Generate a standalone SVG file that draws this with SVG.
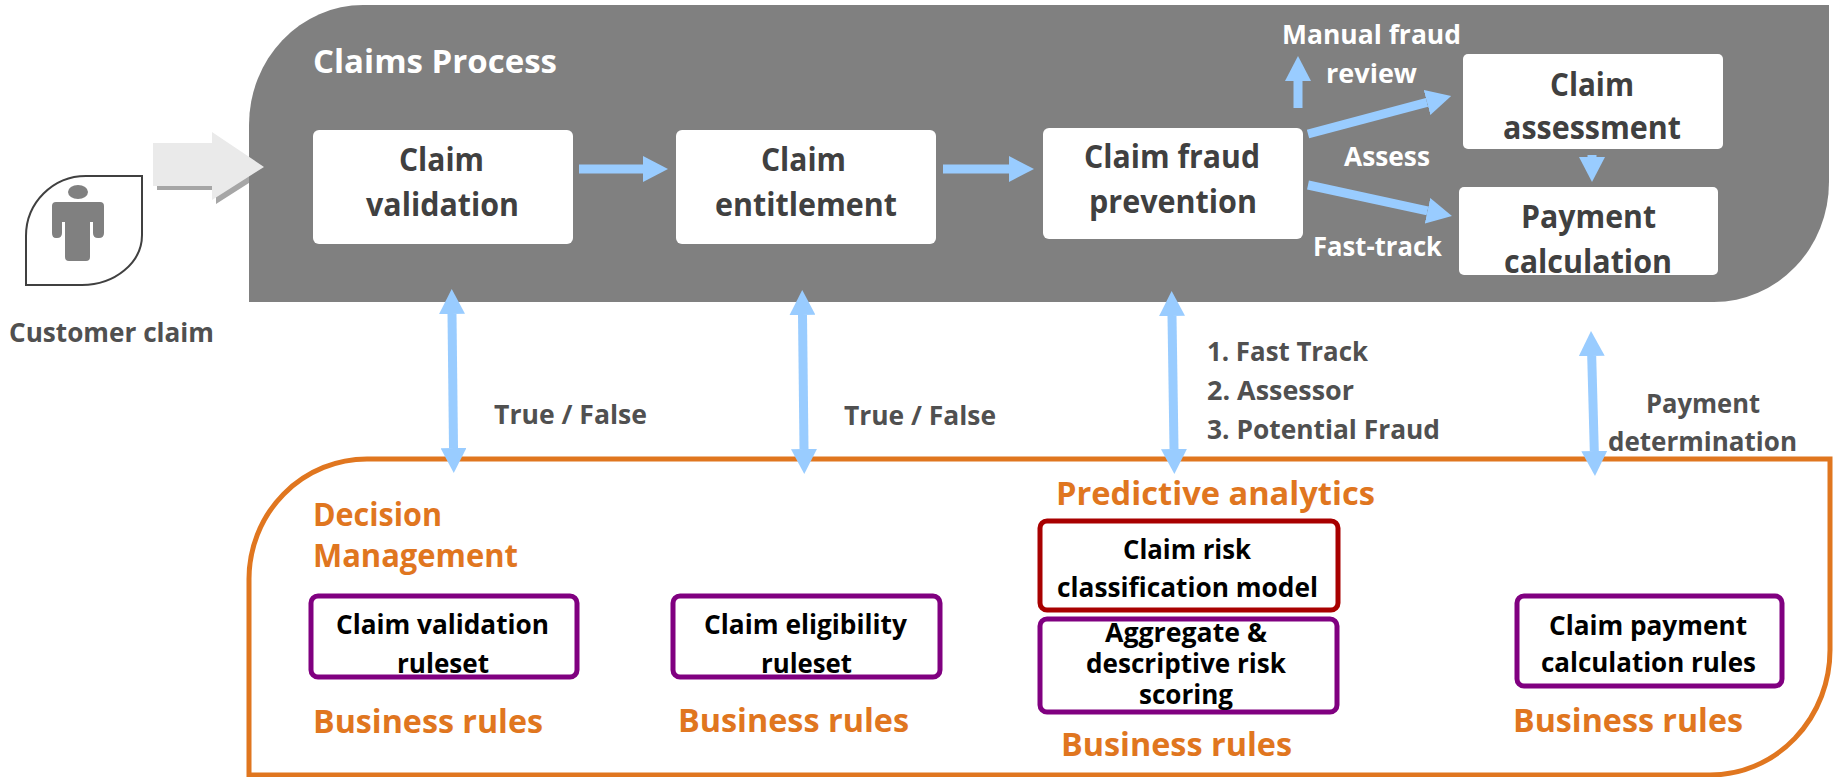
<svg xmlns="http://www.w3.org/2000/svg" width="1834" height="777" viewBox="0 0 1834 777">
<style>
text{font-family:"Open Sans","Noto Sans",sans-serif;font-weight:700;}
.big{font-size:32px;fill:#404040}
.mid{font-size:27px;fill:#505050}
.wht{font-size:27px;fill:#fff}
.org{font-size:32px;fill:#E0761F}
.blk{font-size:26px;fill:#000}
.box{fill:#fff}
.pur{fill:#fff;stroke:#800080;stroke-width:5}
.red{fill:#fff;stroke:#A80000;stroke-width:5}
.conn line{stroke:#99CCFF;stroke-width:9;fill:none}
.one{marker-end:url(#h)}
.two{marker-end:url(#h);marker-start:url(#h)}
</style>
<defs>
<marker id="h" viewBox="0 0 25 26" refX="0" refY="13" markerWidth="25" markerHeight="26" markerUnits="userSpaceOnUse" orient="auto-start-reverse"><path d="M0,0L25,13L0,26Z" fill="#99CCFF"/></marker>
</defs>
<rect width="1834" height="777" fill="#fff"/>
<g id="claim-input-shadow">
<path d="M157,147H216V136L268,171L216,204V190H157Z" fill="#A6A6A6"/>
</g>
<g id="process-panel">
<path d="M363,5H1829V182A115,120 0 0 1 1714,302H249V125A114,120 0 0 1 363,5Z" fill="#808080"/>
<text x="313" y="73" class="wht" style="font-size:32px" textLength="244" lengthAdjust="spacingAndGlyphs">Claims Process</text>
</g>
<g id="decision-panel">
<path d="M367,459H1830V650A120,125 0 0 1 1710,775H249V579A118,120 0 0 1 367,459Z" fill="#fff" stroke="#E0761F" stroke-width="5"/>
</g>
<g id="customer-claim">
<path d="M142,176V235A60,50 0 0 1 82,285H26V236A60,60 0 0 1 86,176Z" fill="#fff" stroke="#404040" stroke-width="2"/>
<ellipse cx="78" cy="192" rx="10" ry="7" fill="#808080"/>
<path d="M56,202H100Q104,202 104,206V233Q104,238 99,238H98Q93,238 93,233V222H90V257Q90,261 86,261H69Q65,261 65,257V222H62V233Q62,238 57,238H56Q52,238 52,233V206Q52,202 56,202Z" fill="#808080"/>
<text x="9" y="342" class="mid" textLength="205" lengthAdjust="spacingAndGlyphs">Customer claim</text>
</g>
<g id="claim-input-arrow">
<path d="M153,143H212V132L264,167L212,200V186H153Z" fill="#EAEAEA"/>
</g>
<g id="claim-validation">
<rect x="313" y="130" width="260" height="114" rx="6" class="box"/>
<text x="399" y="171" class="big" textLength="85" lengthAdjust="spacingAndGlyphs">Claim</text>
<text x="366" y="216" class="big" textLength="153" lengthAdjust="spacingAndGlyphs">validation</text>
</g>
<g id="claim-entitlement">
<rect x="676" y="130" width="260" height="114" rx="6" class="box"/>
<text x="761" y="171" class="big" textLength="85" lengthAdjust="spacingAndGlyphs">Claim</text>
<text x="715" y="216" class="big" textLength="182" lengthAdjust="spacingAndGlyphs">entitlement</text>
</g>
<g id="claim-fraud-prevention">
<rect x="1043" y="128" width="260" height="111" rx="6" class="box"/>
<text x="1084" y="168" class="big" textLength="176" lengthAdjust="spacingAndGlyphs">Claim fraud</text>
<text x="1089" y="213" class="big" textLength="168" lengthAdjust="spacingAndGlyphs">prevention</text>
</g>
<g id="claim-assessment">
<rect x="1463" y="54" width="260" height="95" rx="5" class="box"/>
<text x="1550" y="96" class="big" textLength="84" lengthAdjust="spacingAndGlyphs">Claim</text>
<text x="1503" y="139" class="big" textLength="178" lengthAdjust="spacingAndGlyphs">assessment</text>
</g>
<g id="payment-calculation">
<rect x="1459" y="187" width="259" height="88" rx="5" class="box"/>
<text x="1521" y="228" class="big" textLength="135" lengthAdjust="spacingAndGlyphs">Payment</text>
<text x="1504" y="273" class="big" textLength="168" lengthAdjust="spacingAndGlyphs">calculation</text>
</g>
<g id="validation-ruleset">
<rect x="311" y="596" width="266" height="81" rx="7" class="pur"/>
<text x="336" y="634" class="blk" textLength="213" lengthAdjust="spacingAndGlyphs">Claim validation</text>
<text x="397" y="673" class="blk" textLength="92" lengthAdjust="spacingAndGlyphs">ruleset</text>
</g>
<g id="eligibility-ruleset">
<rect x="673" y="596" width="267" height="81" rx="7" class="pur"/>
<text x="704" y="634" class="blk" textLength="203" lengthAdjust="spacingAndGlyphs">Claim eligibility</text>
<text x="761" y="673" class="blk" textLength="91" lengthAdjust="spacingAndGlyphs">ruleset</text>
</g>
<g id="risk-model">
<rect x="1040" y="521" width="298" height="89" rx="7" class="red"/>
<text x="1123" y="559" class="blk" textLength="128" lengthAdjust="spacingAndGlyphs">Claim risk</text>
<text x="1057" y="597" class="blk" textLength="261" lengthAdjust="spacingAndGlyphs">classification model</text>
</g>
<g id="risk-scoring">
<rect x="1040" y="619" width="297" height="93" rx="7" class="pur"/>
<text x="1105" y="642" class="blk" textLength="162" lengthAdjust="spacingAndGlyphs">Aggregate &amp;</text>
<text x="1086" y="673" class="blk" textLength="200" lengthAdjust="spacingAndGlyphs">descriptive risk</text>
<text x="1139" y="704" class="blk" textLength="94" lengthAdjust="spacingAndGlyphs">scoring</text>
</g>
<g id="payment-rules">
<rect x="1517" y="596" width="265" height="90" rx="7" class="pur"/>
<text x="1549" y="635" class="blk" textLength="198" lengthAdjust="spacingAndGlyphs">Claim payment</text>
<text x="1541" y="672" class="blk" textLength="215" lengthAdjust="spacingAndGlyphs">calculation rules</text>
</g>
<g id="labels">
<text x="1282" y="44" class="wht" textLength="179" lengthAdjust="spacingAndGlyphs">Manual fraud</text>
<text x="1326" y="83" class="wht" textLength="91" lengthAdjust="spacingAndGlyphs">review</text>
<text x="1344" y="166" class="wht" textLength="86" lengthAdjust="spacingAndGlyphs">Assess</text>
<text x="1313" y="256" class="wht" textLength="129" lengthAdjust="spacingAndGlyphs">Fast-track</text>
<text x="494" y="424" class="mid" textLength="153" lengthAdjust="spacingAndGlyphs">True / False</text>
<text x="844" y="425" class="mid" textLength="152" lengthAdjust="spacingAndGlyphs">True / False</text>
<text x="1207" y="361" class="mid" textLength="161" lengthAdjust="spacingAndGlyphs">1. Fast Track</text>
<text x="1207" y="400" class="mid" textLength="147" lengthAdjust="spacingAndGlyphs">2. Assessor</text>
<text x="1207" y="439" class="mid" textLength="233" lengthAdjust="spacingAndGlyphs">3. Potential Fraud</text>
<text x="1646" y="413" class="mid" textLength="114" lengthAdjust="spacingAndGlyphs">Payment</text>
<text x="1608" y="451" class="mid" textLength="189" lengthAdjust="spacingAndGlyphs">determination</text>
<text x="313" y="526" class="org" textLength="129" lengthAdjust="spacingAndGlyphs">Decision</text>
<text x="313" y="567" class="org" textLength="205" lengthAdjust="spacingAndGlyphs">Management</text>
<text x="313" y="733" class="org" textLength="230" lengthAdjust="spacingAndGlyphs">Business rules</text>
<text x="678" y="732" class="org" textLength="231" lengthAdjust="spacingAndGlyphs">Business rules</text>
<text x="1056" y="505" class="org" textLength="319" lengthAdjust="spacingAndGlyphs">Predictive analytics</text>
<text x="1061" y="756" class="org" textLength="231" lengthAdjust="spacingAndGlyphs">Business rules</text>
<text x="1513" y="732" class="org" textLength="230" lengthAdjust="spacingAndGlyphs">Business rules</text>
</g>
<g id="connectors" class="conn">
<line class="one" x1="579" y1="169" x2="643" y2="169"/>
<line class="one" x1="943" y1="169" x2="1009" y2="169"/>
<line class="one" x1="1298" y1="108" x2="1298" y2="81"/>
<line class="one" x1="1308" y1="134" x2="1427" y2="102.4"/>
<line class="one" x1="1308" y1="185" x2="1427.5" y2="210.8"/>
<line class="one" x1="1592" y1="155" x2="1592" y2="157"/>
<line class="two" x1="452" y1="314" x2="453.5" y2="448"/>
<line class="two" x1="802.5" y1="315" x2="804" y2="449"/>
<line class="two" x1="1172" y1="316" x2="1174" y2="449"/>
<line class="two" x1="1591.7" y1="356" x2="1594.3" y2="451"/>
</g>
</svg>
